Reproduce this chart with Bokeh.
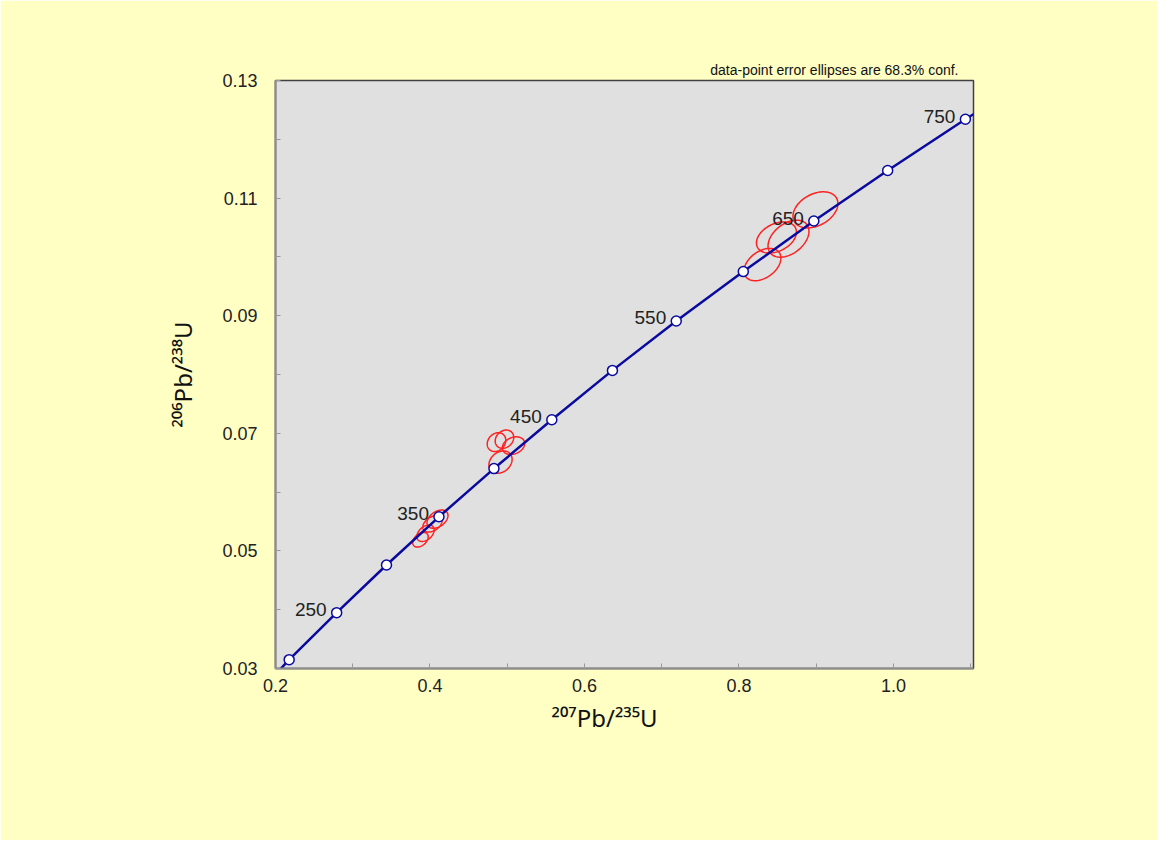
import numpy as np
from bokeh.plotting import figure
from bokeh.models import Range1d, FixedTicker, NumeralTickFormatter, ColumnDataSource, Title
from bokeh.embed import file_html
from bokeh.resources import INLINE

# Concordia marker ages (Ma) and their ratio coordinates
conc_age = [150, 200, 250, 300, 350, 400, 450, 500, 550, 600, 650, 700, 750, 800]
conc_x = [0.1610, 0.2177, 0.2792, 0.3437, 0.4116, 0.4828, 0.5577, 0.6362,
          0.7188, 0.8056, 0.8969, 0.9925, 1.0931, 1.1983]
conc_y = [0.0235, 0.0315, 0.0395, 0.0476, 0.0558, 0.0640, 0.0723, 0.0807,
          0.0891, 0.0975, 0.1061, 0.1147, 0.1234, 0.1321]
label_ages = [250, 350, 450, 550, 650, 750]

# Data-point error ellipses: centre, half-extent in x and y, error correlation
ell_x = [0.4097, 0.4032, 0.3942, 0.3877,
         0.4861, 0.4964, 0.5081, 0.4913,
         0.8304, 0.8485, 0.8641, 0.8990]
ell_y = [0.0554, 0.0546, 0.0530, 0.0519,
         0.0685, 0.0690, 0.0679, 0.0651,
         0.0987, 0.1033, 0.1031, 0.1080]
ell_sx = [0.0136, 0.0125, 0.0112, 0.0100,
          0.0120, 0.0120, 0.0145, 0.0150,
          0.0239, 0.0259, 0.0265, 0.0291]
ell_sy = [0.00155, 0.00140, 0.00140, 0.00125,
          0.00160, 0.00155, 0.00150, 0.00190,
          0.00275, 0.00265, 0.00315, 0.00307]
ell_rho = [0.4, 0.4, 0.4, 0.4,
           0.2, 0.2, 0.25, 0.25,
           0.4, 0.35, 0.4, 0.35]

x_ticks = [0.2, 0.4, 0.6, 0.8, 1.0]
x_minor = [0.3, 0.5, 0.7, 0.9, 1.1]
y_ticks = [0.03, 0.05, 0.07, 0.09, 0.11, 0.13]
y_minor = [0.04, 0.06, 0.08, 0.10, 0.12]

FONT = "Liberation Sans"
LABEL_FONT = "Noto Sans"
BLUE = "#0A0AA0"

p = figure(width=1157, height=840,
           x_range=Range1d(0.2, 1.1036), y_range=Range1d(0.03, 0.13),
           output_backend="svg", toolbar_location=None,
           min_border_left=275, min_border_right=184,
           min_border_top=80, min_border_bottom=172,
           background_fill_color="#E0E0E0", border_fill_color="#FFFFC4",
           title="data-point error ellipses are 68.3% conf.")
p.grid.visible = False
p.outline_line_color = "#404040"
p.outline_line_width = 1.5

p.title.align = "right"
p.title.text_font = FONT
p.title.text_font_style = "normal"
p.title.text_font_size = "14px"
p.title.text_color = "#111111"
p.title.standoff = 6
p.title.offset = 15

p.xaxis.ticker = FixedTicker(ticks=x_ticks, minor_ticks=x_minor)
p.yaxis.ticker = FixedTicker(ticks=y_ticks, minor_ticks=y_minor)
p.xaxis.formatter = NumeralTickFormatter(format="0.0")
p.yaxis.formatter = NumeralTickFormatter(format="0.00")
for ax in (p.xaxis, p.yaxis):
    ax.axis_line_color = "#8C8C8C"
    ax.axis_line_width = 2
    ax.major_tick_in = 5
    ax.major_tick_out = 0
    ax.minor_tick_in = 5
    ax.minor_tick_out = 0
    ax.major_tick_line_color = "#999999"
    ax.minor_tick_line_color = "#999999"
    ax.major_label_text_font = FONT
    ax.major_label_text_font_size = "18px"
    ax.major_label_text_color = "#222222"
    ax.axis_label_text_font = LABEL_FONT
    ax.axis_label_text_font_size = "24px"
    ax.axis_label_text_font_style = "normal"
    ax.axis_label_text_color = "#111111"
p.xaxis.major_label_standoff = 10
p.yaxis.major_label_standoff = 18
p.yaxis.axis_label = "²⁰⁶Pb/²³⁸U"
p.yaxis.axis_label_standoff = 20

# x-axis title as a left-aligned title in the lower panel, placed left of the frame centre
p.add_layout(Title(text="²⁰⁷Pb/²³⁵U", align="left", offset=276, standoff=8,
                   text_font=LABEL_FONT, text_font_size="24px",
                   text_font_style="normal", text_color="#111111"), "below")

# error ellipses
t = np.linspace(0, 2 * np.pi, 91)
xs, ys = [], []
for cx, cy, sx, sy, r in zip(ell_x, ell_y, ell_sx, ell_sy, ell_rho):
    xs.append(list(cx + sx * np.cos(t)))
    ys.append(list(cy + sy * (r * np.cos(t) + np.sqrt(1 - r * r) * np.sin(t))))
p.multi_line(xs, ys, line_color="#FF2020", line_width=1.5)

# concordia curve and age markers
p.line(conc_x, conc_y, line_color=BLUE, line_width=2.5)
p.scatter(conc_x, conc_y, size=10, marker="circle", fill_color="white",
          line_color=BLUE, line_width=1.5)

lab_src = ColumnDataSource(dict(
    x=[conc_x[conc_age.index(a)] for a in label_ages],
    y=[conc_y[conc_age.index(a)] for a in label_ages],
    t=[str(a) for a in label_ages]))
p.text(x="x", y="y", text="t", source=lab_src, text_align="right",
       text_baseline="alphabetic", x_offset=-10, y_offset=-3,
       text_font_size="19px", text_color="#222222",
       text_font={"value": FONT})

open("out.html", "w").write(file_html(p, INLINE))
